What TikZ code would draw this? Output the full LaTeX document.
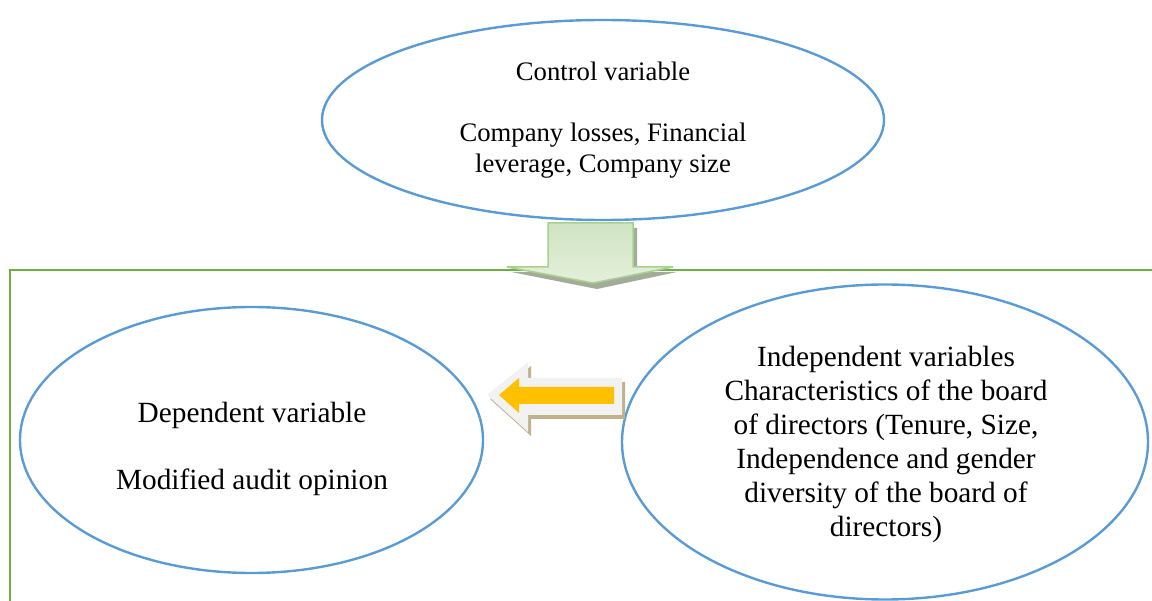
\documentclass[tikz,border=0pt]{standalone}
\usepackage{fontspec}
\setmainfont{Liberation Serif}
\usetikzlibrary{shapes.geometric}
\definecolor{ellblue}{HTML}{5B9BD5}
\definecolor{framegreen}{HTML}{70AD47}
\definecolor{arrowedge}{HTML}{A9D18E}
\definecolor{arrowlight}{HTML}{E4EFDC}
\definecolor{arrowmid}{HTML}{CFE4C1}
\definecolor{greenshadow}{HTML}{A3AC9A}
\definecolor{brownshadow}{HTML}{C2B28C}
\definecolor{paleback}{HTML}{F2F2F2}
\definecolor{gold}{HTML}{FFC000}
\tikzset{
  oval/.style={ellipse, draw=ellblue, line width=2.4pt, inner sep=0pt},
  bigtext/.style={align=center, inner sep=0pt, font=\fontsize{29.3}{33.9}\selectfont},
  smalltext/.style={align=center, inner sep=0pt, font=\fontsize{26.7}{30.7}\selectfont},
}
\begin{document}
\begin{tikzpicture}[x=1pt, y=-1pt]
\useasboundingbox (0,0) rectangle (1152,601);

% enclosing frame (top and left edges)
\draw[framegreen, line width=2.4pt] (1152,270) -- (10,270) -- (10,601);

% control variable
\node[oval, minimum width=562pt, minimum height=200pt] (ctrl) at (603,120) {};
\node[smalltext] (ctrltxt) at (603,120)
  {Control variable\\\mbox{}\\Company losses, Financial\\leverage, Company size};

% dependent variable
\node[oval, minimum width=463pt, minimum height=266pt] (dep) at (251.5,440) {};
\node[bigtext] (deptxt) at (252,449)
  {Dependent variable\\\mbox{}\\Modified audit opinion};

% independent variables
\node[oval, minimum width=526pt, minimum height=315pt] (indep) at (885,442) {};
\node[bigtext] (indeptxt) at (886,444.5)
  {Independent variables\\Characteristics of the board\\of directors (Tenure, Size,\\Independence and gender\\diversity of the board of\\directors)};

% block arrow pointing down from the control variable
\fill[greenshadow] (552,228) -- (637,228) -- (637,272) -- (677,272) -- (597,289)
  -- (511,272) -- (552,272) -- cycle;
\draw[arrowedge, line width=1.5pt, top color=arrowmid, bottom color=arrowlight]
  (548,223) -- (633,223) -- (633,267) -- (673,267) -- (593,283)
  -- (507,267) -- (548,267) -- cycle;

% block arrow pointing left towards the dependent variable
\fill[brownshadow] (490,399) -- (531,366) -- (531,382) -- (625,382) -- (625,419)
  -- (531,419) -- (531,436) -- cycle;
\fill[paleback] (487,395) -- (528,362) -- (528,378) -- (622,378) -- (622,415)
  -- (528,415) -- (528,432) -- cycle;
\fill[gold] (499,395) -- (519,378) -- (519,387) -- (614,387) -- (614,404)
  -- (519,404) -- (519,413) -- cycle;
\end{tikzpicture}
\end{document}
